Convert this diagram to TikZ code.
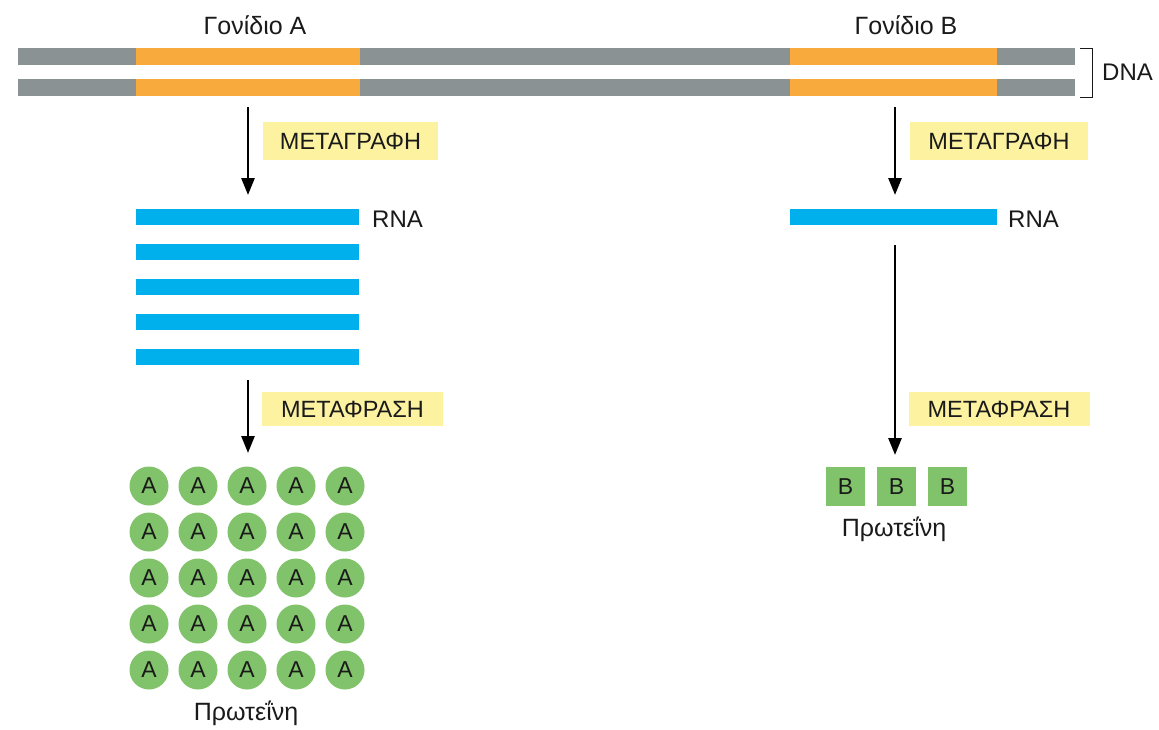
\documentclass[tikz,border=0pt]{standalone}
\usepackage{fontspec}
\setmainfont{Liberation Sans}
\usetikzlibrary{arrows.meta}
\definecolor{dnagray}{HTML}{8A9294}
\definecolor{geneorange}{HTML}{F9AA3C}
\definecolor{rnablue}{HTML}{00B0EC}
\definecolor{lblyellow}{HTML}{FCF2A0}
\definecolor{protgreen}{HTML}{80C36A}
\definecolor{txt}{HTML}{1A1A1A}
\tikzset{
  bar/.style={inner sep=0pt, outer sep=0pt, anchor=north west, draw=none},
  strand/.style={bar, fill=dnagray, minimum height=17pt},
  gene/.style={bar, fill=geneorange, minimum height=17pt},
  rna/.style={bar, fill=rnablue, minimum height=16pt},
  txtnode/.style={text=txt, font=\fontsize{24}{28}\selectfont, inner sep=0pt, anchor=base},
  biglbl/.style={txtnode, font=\fontsize{25}{29}\selectfont},
  proc/.style={fill=lblyellow, text=txt, font=\fontsize{23.5}{28}\selectfont, inner sep=0pt},
  protA/.style={circle, fill=protgreen, minimum size=39pt, inner sep=0pt, text=txt, font=\fontsize{23}{27}\selectfont},
  protB/.style={rectangle, fill=protgreen, minimum size=39pt, inner sep=0pt, text=txt, font=\fontsize{23}{27}\selectfont},
  arr/.style={-{Triangle[width=13pt,length=17pt]}, line width=2.7pt, draw=black}
}
\begin{document}
\begin{tikzpicture}[x=1pt,y=-1pt]
\useasboundingbox (0,0) rectangle (1159,729);
\fill[white] (0,0) rectangle (1159,729);
% DNA
\node[strand, minimum width=1057pt] (dnaT) at (18,48) {};
\node[strand, minimum width=1057pt] (dnaB) at (18,79) {};
\node[gene, minimum width=224pt] (gAT) at (136,48) {};
\node[gene, minimum width=224pt] (gAB) at (136,79) {};
\node[gene, minimum width=207pt] (gBT) at (790,48) {};
\node[gene, minimum width=207pt] (gBB) at (790,79) {};
\node[biglbl] (gAlbl) at (255,34) {Γονίδιο A};
\node[biglbl] (gBlbl) at (906,34) {Γονίδιο B};
\draw[line width=1pt, draw=txt] (1080,48) -- (1092,48) -- (1092,97) -- (1080,97);
\node[txtnode, anchor=base west] (dnalbl) at (1102,80) {DNA};
% RNA A
\foreach \i/\yy in {1/209,2/244,3/279,4/314,5/349}{
  \node[rna, minimum width=223pt] (rnaA\i) at (136,\yy) {};
}
\node[txtnode, anchor=base west] (rnaAlbl) at (372,227) {RNA};
% RNA B
\node[rna, minimum width=207pt] (rnaB) at (790,209) {};
\node[txtnode, anchor=base west] (rnaBlbl) at (1008,227) {RNA};
% process labels
\node[proc, minimum width=175pt, minimum height=38pt] (trA) at (350.5,141) {ΜΕΤΑΓΡΑΦΗ};
\node[proc, minimum width=178pt, minimum height=38pt] (trB) at (999,141) {ΜΕΤΑΓΡΑΦΗ};
\node[proc, minimum width=181pt, minimum height=34pt] (tlA) at (352.5,409) {ΜΕΤΑΦΡΑΣΗ};
\node[proc, minimum width=181pt, minimum height=34pt] (tlB) at (999,409) {ΜΕΤΑΦΡΑΣΗ};
% proteins A
\foreach \c in {0,...,4}{
  \foreach \r in {0,...,4}{
    \node[protA] (pA\c\r) at ({149+49*\c},{486+46*\r}) {A};
  }
}
\node[biglbl] (protAlbl) at (246,720) {Πρωτεΐνη};
% proteins B
\node[protB] (pB1) at (845.5,486.5) {B};
\node[protB] (pB2) at (896.5,486.5) {B};
\node[protB] (pB3) at (947.5,486.5) {B};
\node[biglbl] (protBlbl) at (894,536) {Πρωτεΐνη};
% arrows
\coordinate (a1s) at (248,107);
\coordinate (a1e) at (248,195);
\coordinate (a2s) at (248,380);
\coordinate (a2e) at (248,453);
\coordinate (b1s) at (895,107);
\coordinate (b1e) at (895,195);
\coordinate (b2s) at (895,245);
\coordinate (b2e) at (895,455);
\draw[arr] (a1s) -- (a1e);
\draw[arr] (a2s) -- (a2e);
\draw[arr] (b1s) -- (b1e);
\draw[arr] (b2s) -- (b2e);
\end{tikzpicture}
\end{document}
